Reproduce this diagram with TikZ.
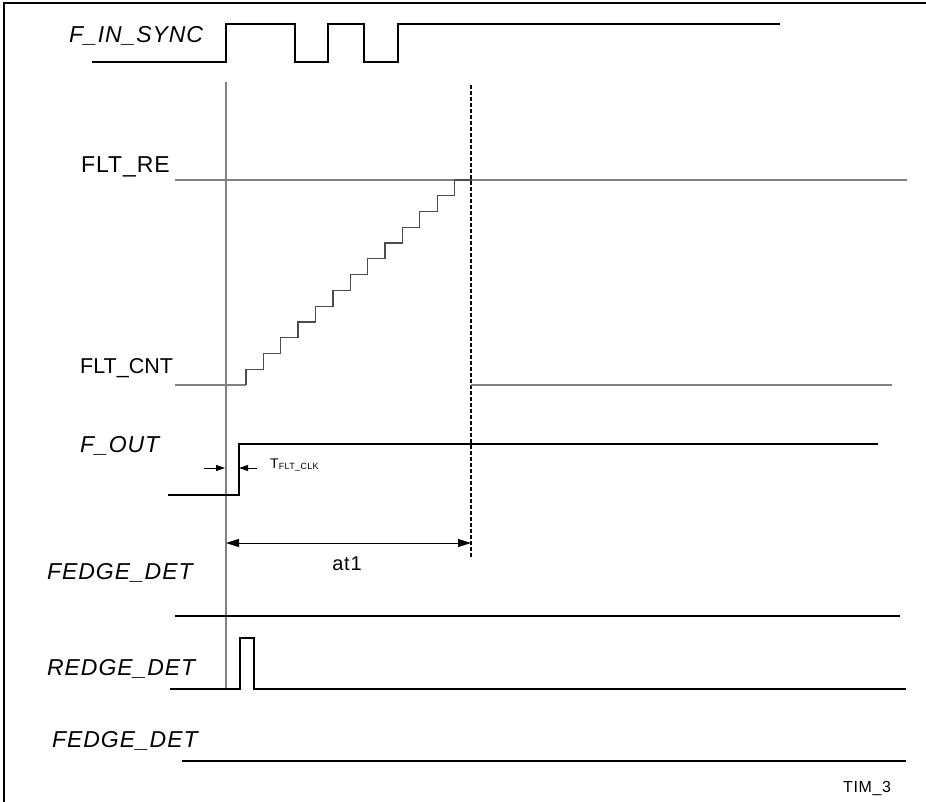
\documentclass[tikz,border=0pt]{standalone}
\usepackage{fontspec}
\setmainfont{Liberation Sans}
\newfontfamily\sigfont[LetterSpace=4]{Liberation Sans}
\usetikzlibrary{arrows.meta}

\begin{document}
\begin{tikzpicture}[x=1pt, y=-1pt,
  sig/.style={anchor=base west, inner sep=0pt, font=\fontsize{23}{23}\sigfont\itshape},
  lvl/.style={anchor=base west, inner sep=0pt, font=\fontsize{23}{23}\sigfont},
  wave/.style={line width=2.6pt, line join=miter},
  refl/.style={line width=1.5pt, draw=black!50},
  stair/.style={line width=1.3pt, draw=black!70},
  dim/.style={line width=1pt, {Triangle[length=13pt,width=8pt]}-{Triangle[length=13pt,width=8pt]}},
  tick/.style={line width=1pt, -{Triangle[length=9pt,width=6pt]}}]
\useasboundingbox (0,0) rectangle (926,802);
% frame
\draw[line width=2pt] (4,802) -- (4,3) -- (926,3);

% labels
\node[sig] (lblsync) at (69,43) {F\_IN\_SYNC};
\node[lvl] (lblre) at (81,173) {FLT\_RE};
\node[lvl, font=\fontsize{21.5}{21.5}\selectfont] (lblcnt) at (80,373) {FLT\_CNT};
\node[sig] (lblout) at (80,452) {F\_OUT};
\node[sig] (lblfedge) at (47,579) {FEDGE\_DET};
\node[sig] (lblredge) at (47,675) {REDGE\_DET};
\node[sig] (lblfedgeb) at (52,747) {FEDGE\_DET};

% reference lines
\coordinate (t0) at (226,543);
\coordinate (t1) at (471,543);
\draw[refl] (226,82) -- (226,690);
\draw[line width=1.2pt, dash pattern=on 4pt off 2pt] (471,85) -- (471,557);

% F_IN_SYNC
\draw[wave] (92,62) -- (226,62) -- (226,24) -- (295,24) -- (295,62) -- (328,62)
  -- (328,24) -- (364,24) -- (364,62) -- (398,62) -- (398,24) -- (780,24);

% FLT_RE / FLT_CNT
\draw[refl] (175,180) -- (907,180);
\draw[refl] (175,385) -- (246,385);
\draw[stair] (246,385) \foreach \i in {1,...,13} { -- ++(0,-15.77) -- ++(17.38,0) };
\draw[refl] (471,385) -- (892,385);

% F_OUT
\draw[wave] (168,495) -- (239,495) -- (239,444) -- (878,444);
\coordinate (ka) at (204,468);
\coordinate (kb) at (225,468);
\coordinate (kc) at (257,468);
\coordinate (kd) at (239,468);
\draw[tick] (ka) -- (kb);
\draw[tick] (kc) -- (kd);
\node[anchor=base west, inner sep=0pt] (lbltclk) at (270,468)
  {\fontsize{14}{14}\sigfont T\raisebox{-1pt}{\fontsize{9}{9}\sigfont FLT\_CLK}};

% at1
\draw[dim] (t0) -- (t1);
\node[anchor=base, inner sep=0pt, font=\fontsize{20}{20}\sigfont] (lblat) at (347,570) {at1};

% FEDGE_DET / REDGE_DET / FEDGE_DET
\draw[wave] (175,616) -- (900,616);
\draw[wave] (170,689) -- (240,689) -- (240,638) -- (254,638) -- (254,689) -- (906,689);
\draw[wave] (182,761) -- (906,761);

\node[anchor=base west, inner sep=0pt, font=\fontsize{16}{16}\sigfont] (lbltim) at (843,792) {TIM\_3};
\end{tikzpicture}
\end{document}
